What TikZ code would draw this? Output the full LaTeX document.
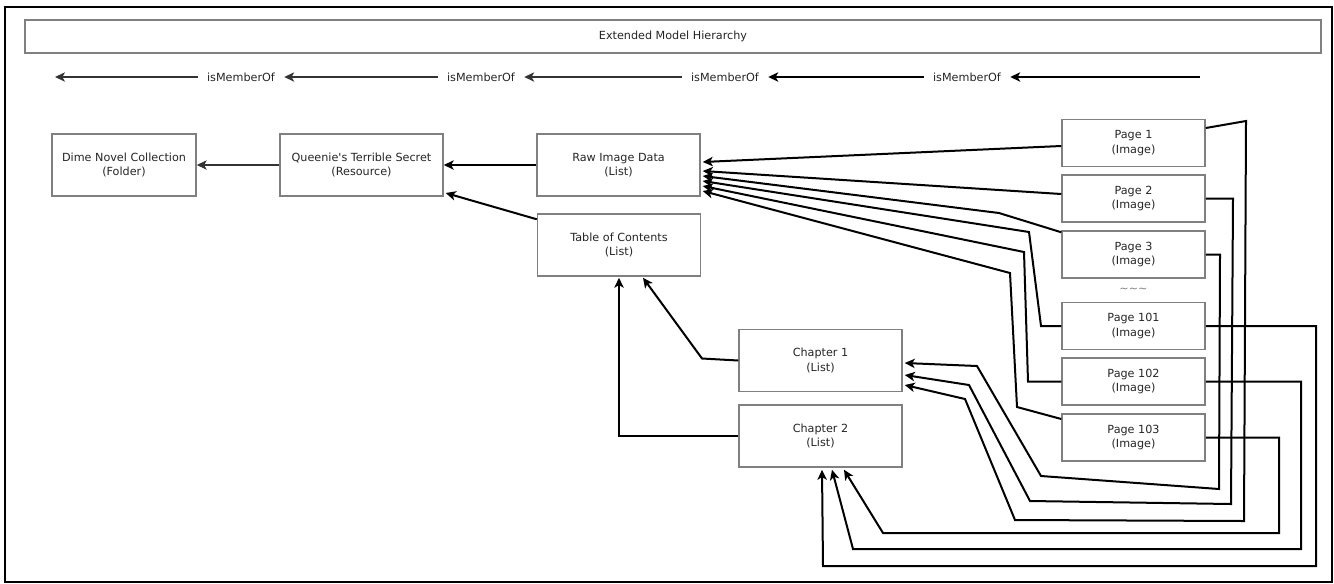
\documentclass[tikz,border=0pt]{standalone}
\usepackage{fontspec}
\setmainfont{DejaVu Sans}[Ligatures=TeXOff]
\usetikzlibrary{arrows.meta,calc}

\tikzset{
  box/.style={draw=gray, line width=1.1pt, fill=white, inner sep=0pt, align=center, text=black!85},
  listbox/.style={box, minimum width=122.25pt, minimum height=46.5pt},
  pagebox/.style={box, minimum width=107.25pt, minimum height=35.25pt},
  conn/.style={->, line width=1.5pt},
  thinconn/.style={->, line width=0.9pt, black!80},
  rel/.style={inner sep=0pt, outer sep=7pt, text=black!85}
}

\begin{document}
\begin{tikzpicture}[x=0.75pt,y=-0.75pt,>={Stealth[length=7.5pt,width=7pt,inset=2pt]},
  font=\fontsize{8.4}{10.7}\selectfont]

  \useasboundingbox (0,0) rectangle (1334,583);
  % Frame and title
  \draw[line width=1.5pt] (5,7) rectangle (1332,582);
  \node[box, minimum width=972pt, minimum height=24.75pt] (title) at (673,36.5) {Extended Model Hierarchy};

  % Relation row
  \node[rel] (rel1) at (241,77) {isMemberOf};
  \node[rel] (rel2) at (481,77) {isMemberOf};
  \node[rel] (rel3) at (725,77) {isMemberOf};
  \node[rel] (rel4) at (967,77) {isMemberOf};
  \coordinate (relstart) at (1200,77);
  \coordinate (relend) at (55,77);
  \draw[thinconn] (rel1.west) -- (relend);
  \draw[thinconn] (rel2.west) -- (rel1.east);
  \draw[thinconn] (rel3.west) -- (rel2.east);
  \draw[conn] (rel4.west) -- (rel3.east);
  \draw[conn] (relstart) -- (rel4.east);

  % Collection, resource and lists
  \node[listbox, minimum width=108pt] (dime) at (124,165) {Dime Novel Collection\\(Folder)};
  \node[listbox] (queenie) at (361.5,165) {Queenie's Terrible Secret\\(Resource)};
  \node[listbox] (raw) at (618.5,165) {Raw Image Data\\(List)};
  \node[listbox] (toc) at (619,245) {Table of Contents\\(List)};
  \node[listbox] (ch1) at (820.5,360.5) {Chapter 1\\(List)};
  \node[listbox] (ch2) at (820.5,436) {Chapter 2\\(List)};

  % Pages
  \node[pagebox] (p1) at (1133.5,143) {Page 1\\(Image)};
  \node[pagebox] (p2) at (1133.5,198.5) {Page 2\\(Image)};
  \node[pagebox] (p3) at (1133.5,254.5) {Page 3\\(Image)};
  \node[text=gray] (dots) at (1133.5,290) {\textasciitilde\textasciitilde\textasciitilde};
  \node[pagebox] (p101) at (1133.5,326) {Page 101\\(Image)};
  \node[pagebox] (p102) at (1133.5,381.5) {Page 102\\(Image)};
  \node[pagebox] (p103) at (1133.5,437.5) {Page 103\\(Image)};

  % Upper levels
  \draw[thinconn] (queenie.west) -- (dime.east);
  \draw[conn] (raw.west) -- (queenie.east);
  \draw[conn] ($(toc.north west)+(0,6)$) -- ($(queenie.east)+(2,28)$);
  \draw[conn] (ch1.west) -- (702,358.5) -- ($(toc.south)+(24,1)$);
  \draw[conn] (ch2.west) -- (619,436) -- ($(toc.south)+(0,1)$);

  % Pages to raw image data
  \draw[conn] ($(p1.west)+(0,3)$) -- ($(raw.east)+(2,-3)$);
  \draw[conn] ($(p2.west)+(0,-4.5)$) -- ($(raw.east)+(2,6)$);
  \draw[conn] ($(p3.north west)+(0,2)$) -- (999,213) -- ($(raw.east)+(2,11)$);
  \draw[conn] (p101.west) -- (1041,326) -- (1029,232) -- ($(raw.east)+(2,16)$);
  \draw[conn] (p102.west) -- (1028,381.5) -- (1024,252) -- ($(raw.east)+(2,21)$);
  \draw[conn] ($(p103.west)+(0,-18.5)$) -- (1017,407) -- (1010,273) -- ($(raw.east)+(2,26)$);

  % Pages to chapters
  \draw[conn] ($(p1.east)+(0,-15)$) -- (1246,121) -- (1244,521) -- (1015,520) -- (965,399) -- ($(ch1.east)+(2,24.5)$);
  \draw[conn] (p2.east) -- (1233,198.5) -- (1231,504) -- (1030,501) -- (969,385) -- ($(ch1.east)+(2,14.5)$);
  \draw[conn] (p3.east) -- (1220,254.5) -- (1219,489) -- (1041,476) -- (977,366) -- ($(ch1.east)+(2,2.5)$);
  \draw[conn] (p101.east) -- (1316,326) -- (1316,566) -- (823,566) -- ($(ch2.south)+(1.5,2)$);
  \draw[conn] (p102.east) -- (1301,381.5) -- (1301,549) -- (853,549) -- ($(ch2.south)+(11.5,2)$);
  \draw[conn] (p103.east) -- (1279,437.5) -- (1279,533) -- (883,533) -- ($(ch2.south)+(23.5,2)$);

\end{tikzpicture}
\end{document}
